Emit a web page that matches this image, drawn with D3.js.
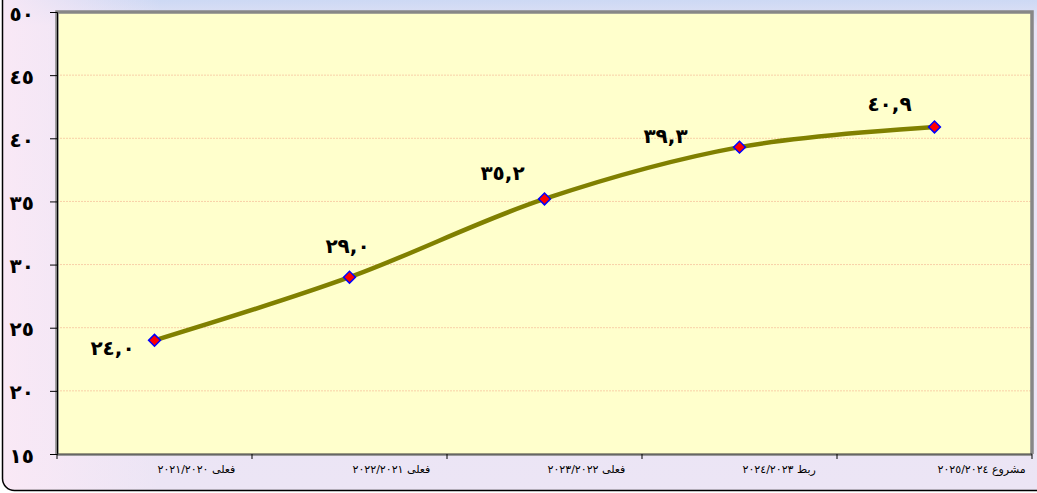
<!DOCTYPE html>
<html>
<head>
<meta charset="utf-8">
<script src="https://cdn.jsdelivr.net/npm/d3@7"></script>
<style>
    html, body { margin: 0; padding: 0; background: #ffffff; }
    svg { display: block; }
</style>
</head>
<body>
<svg id="chart"></svg>
<script>
// categories (budget years) and values
const categories = ["فعلى ٢٠٢١/٢٠٢٠", "فعلى ٢٠٢٢/٢٠٢١", "فعلى ٢٠٢٣/٢٠٢٢", "ربط ٢٠٢٤/٢٠٢٣", "مشروع ٢٠٢٥/٢٠٢٤"];
const values = [24.0, 29.0, 35.2, 39.3, 40.9];
const valueLabels = ["٢٤,٠", "٢٩,٠", "٣٥,٢", "٣٩,٣", "٤٠,٩"];
const yTicks = [15, 20, 25, 30, 35, 40, 45, 50];
const yTickLabels = ["١٥", "٢٠", "٢٥", "٣٠", "٣٥", "٤٠", "٤٥", "٥٠"];

// label offsets relative to each point (layout only)
const labelOffsets = [[-42, 15], [-2, -24], [-42, -19], [-74, -4], [-45, -16]];

const width = 1037, height = 493;
const margin = { top: 12, right: 5, bottom: 39, left: 57 };
const innerWidth = width - margin.left - margin.right;
const innerHeight = height - margin.top - margin.bottom;

const svg = d3.select("#chart")
    .attr("width", width)
    .attr("height", height);

const defs = svg.append("defs");
const bgV = defs.append("linearGradient").attr("id", "bgV")
    .attr("x1", 0).attr("y1", 0).attr("x2", 0).attr("y2", 1);
bgV.append("stop").attr("offset", "0%").attr("stop-color", "#9cc6f2");
bgV.append("stop").attr("offset", "3%").attr("stop-color", "#c8d7f4");
bgV.append("stop").attr("offset", "9%").attr("stop-color", "#e7e3f5");
bgV.append("stop").attr("offset", "100%").attr("stop-color", "#ece5f5");

const bgH = defs.append("linearGradient").attr("id", "bgH")
    .attr("x1", 0).attr("y1", 0).attr("x2", 1).attr("y2", 0);
bgH.append("stop").attr("offset", "0%").attr("stop-color", "#fbe9f6").attr("stop-opacity", 0.9);
bgH.append("stop").attr("offset", "15%").attr("stop-color", "#fbe9f6").attr("stop-opacity", 0);
bgH.append("stop").attr("offset", "100%").attr("stop-color", "#fbe9f6").attr("stop-opacity", 0);

// background frame
svg.append("rect")
    .attr("x", 2.5).attr("y", -20)
    .attr("width", width + 20).attr("height", height + 17.5)
    .attr("rx", 12)
    .attr("fill", "url(#bgV)");
svg.append("rect")
    .attr("x", 2.5).attr("y", -20)
    .attr("width", width + 20).attr("height", height + 17.5)
    .attr("rx", 12)
    .attr("fill", "url(#bgH)")
    .attr("stroke", "#000")
    .attr("stroke-width", 1.5);

const chart = svg.append("g")
    .attr("transform", `translate(${margin.left}, ${margin.top})`);

const xscale = d3.scaleBand()
    .domain(categories)
    .range([0, innerWidth]);

const yscale = d3.scaleLinear()
    .domain([15, 50])
    .range([innerHeight, 0]);

// plot area
chart.append("rect")
    .attr("x", 0).attr("y", 0)
    .attr("width", innerWidth).attr("height", innerHeight)
    .attr("fill", "#ffffcc");

// gridlines
chart.append("g")
    .selectAll("line")
    .data(yTicks.filter(d => d > 15 && d < 50))
    .join("line")
    .attr("x1", 0).attr("x2", innerWidth)
    .attr("y1", d => yscale(d)).attr("y2", d => yscale(d))
    .attr("stroke", "#f8d0a8")
    .attr("stroke-width", 1)
    .attr("stroke-dasharray", "2,1");

// plot border (gray, thicker on top/left)
chart.append("path")
    .attr("d", `M0,${innerHeight} V0 H${innerWidth} V${innerHeight}`)
    .attr("fill", "none")
    .attr("stroke", "#878787")
    .attr("stroke-width", 3.5);
chart.append("line")
    .attr("x1", 0).attr("x2", innerWidth)
    .attr("y1", innerHeight + 1).attr("y2", innerHeight + 1)
    .attr("stroke", "#9a9a9a")
    .attr("stroke-width", 2);

// y axis
const yaxis = d3.axisLeft(yscale)
    .tickValues(yTicks)
    .tickSize(7)
    .tickFormat((d, i) => yTickLabels[i]);
const yaxisGroup = chart.append("g").call(yaxis);
yaxisGroup.select(".domain").attr("stroke", "#000").attr("stroke-width", 1);
yaxisGroup.selectAll(".tick line").attr("stroke", "#000");
yaxisGroup.selectAll(".tick text")
    .attr("x", -23)
    .attr("dy", "0.4em")
    .attr("font-family", "DejaVu Sans")
    .attr("font-weight", "bold")
    .attr("font-size", 20)
    .attr("letter-spacing", 3)
    .attr("fill", "#000");

// x axis
const xaxisGroup = chart.append("g")
    .attr("transform", `translate(0, ${innerHeight})`);
xaxisGroup.append("line")
    .attr("x1", 0).attr("x2", innerWidth)
    .attr("stroke", "#333").attr("stroke-width", 1);
xaxisGroup.selectAll(".xtick")
    .data(d3.range(categories.length + 1))
    .join("line")
    .attr("class", "xtick")
    .attr("x1", i => i * xscale.step()).attr("x2", i => i * xscale.step())
    .attr("y1", 0).attr("y2", 5)
    .attr("stroke", "#000");
xaxisGroup.selectAll(".xlabel")
    .data(categories)
    .join("text")
    .attr("class", "xlabel")
    .attr("x", d => xscale(d) + xscale.bandwidth() / 2 + 3)
    .attr("y", 19)
    .attr("font-family", "DejaVu Sans")
    .attr("font-size", 11)
    .attr("fill", "#000")
    .text(d => d);

// line
const points = categories.map((c, i) => [xscale(c) + xscale.bandwidth() / 2, yscale(values[i])]);
const line = d3.line().curve(d3.curveCatmullRom.alpha(0.5));
chart.append("path")
    .attr("d", line(points))
    .attr("fill", "none")
    .attr("stroke", "#808000")
    .attr("stroke-width", 4.5);

// markers
chart.selectAll(".marker")
    .data(points)
    .join("path")
    .attr("class", "marker")
    .attr("d", d3.symbol(d3.symbolSquare, 70)())
    .attr("transform", d => `translate(${d[0]}, ${d[1]}) rotate(45)`)
    .attr("fill", "#ff0000")
    .attr("stroke", "#0000ff")
    .attr("stroke-width", 1.5);

// data labels
chart.selectAll(".vlabel")
    .data(points)
    .join("text")
    .attr("class", "vlabel")
    .attr("x", (d, i) => d[0] + labelOffsets[i][0])
    .attr("y", (d, i) => d[1] + labelOffsets[i][1])
    .attr("text-anchor", "middle")
    .attr("font-family", "DejaVu Sans")
    .attr("font-weight", "bold")
    .attr("font-size", 20)
    .attr("letter-spacing", 4)
    .attr("fill", "#000")
    .text((d, i) => valueLabels[i]);
</script>
</body>
</html>
